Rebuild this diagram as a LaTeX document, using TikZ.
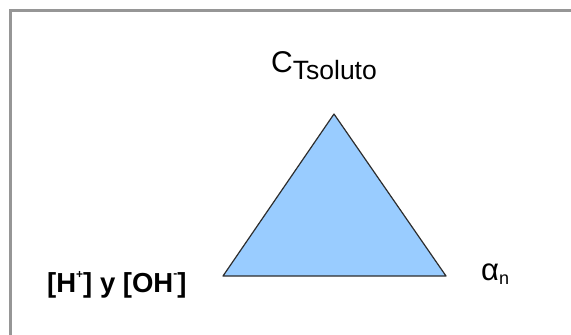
\documentclass[tikz,border=0pt]{standalone}
\usepackage{fontspec}
\setmainfont{Liberation Sans}
\definecolor{tri-fill}{RGB}{153,204,255}
\definecolor{tri-line}{RGB}{45,45,45}
\definecolor{frame-gray}{RGB}{150,150,150}

\begin{document}
\begin{tikzpicture}[x=1pt,y=-1pt]
    \useasboundingbox (0,0) rectangle (571,335);
    \draw[frame-gray, line width=2.2pt] (10.5,340) -- (10.5,10.5) -- (576,10.5);

    \coordinate (top) at (334,114);
    \coordinate (left) at (223,276);
    \coordinate (right) at (446,276);
    \filldraw[fill=tri-fill, draw=tri-line, line width=1.2pt, line join=round] (top) -- (left) -- (right) -- cycle;

    \node[anchor=base west, inner sep=0] (ctot) at (271,72)
        {\fontsize{30}{30}\selectfont C\raisebox{-7pt}{\fontsize{26.5}{26.5}\selectfont Tsoluto}};
    \node[anchor=base west, inner sep=0] (conc) at (47,292)
        {\fontsize{27.5}{27.5}\selectfont\bfseries [H\raisebox{14pt}{\fontsize{12}{12}\selectfont +}] y [OH\raisebox{15pt}{\fontsize{12}{12}\selectfont -}]};
    \node[anchor=base west, inner sep=0] (alpha) at (481,280)
        {\fontsize{31}{31}\selectfont α\raisebox{-4pt}{\fontsize{18}{18}\selectfont n}};
\end{tikzpicture}
\end{document}
